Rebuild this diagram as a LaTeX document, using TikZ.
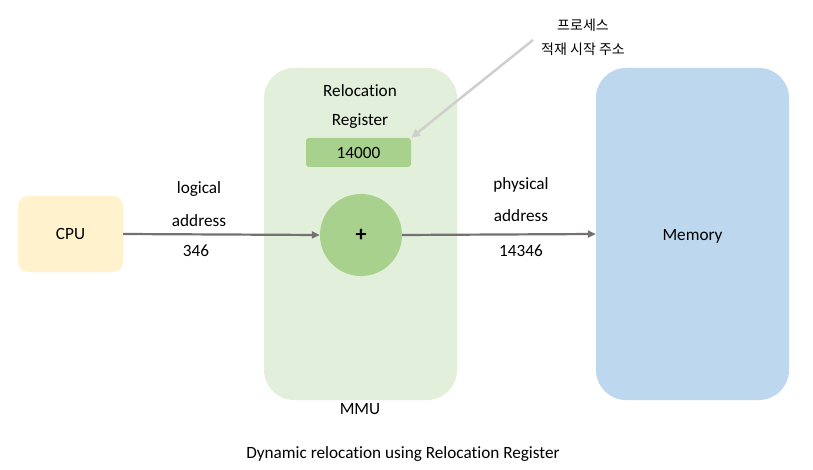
\documentclass[tikz,border=0pt]{standalone}
\usepackage{fontspec}
\setmainfont{Carlito}[Ligatures=NoCommon]
\newfontfamily\kor{Noto Sans CJK KR}
\usetikzlibrary{arrows.meta}
\definecolor{cpuY}{HTML}{FFF2CC}
\definecolor{mmuG}{HTML}{E2EFDA}
\definecolor{regG}{HTML}{A9D18E}
\definecolor{memB}{HTML}{BDD7EE}
\definecolor{arrG}{HTML}{767171}
\definecolor{noteG}{HTML}{D0CECE}
\begin{document}
\begin{tikzpicture}[x=1pt,y=-1pt,
  txt/.style={font=\fontsize{17.2}{20}\selectfont, inner sep=0pt},
  flow/.style={draw=arrG, line width=2.2pt, -{Triangle[length=8pt,width=7pt]}},
  note/.style={draw=noteG, line width=2.5pt, -{Triangle[length=9pt,width=8pt]}}]
\useasboundingbox (0,0) rectangle (813,470);
\fill[white] (0,0) rectangle (813,470);
\node[fill=mmuG, rounded corners=30pt, minimum width=193pt, minimum height=332pt, inner sep=0pt] (mmu) at (360.5,234) {};
\node[fill=memB, rounded corners=30pt, minimum width=193pt, minimum height=332pt, inner sep=0pt] (mem) at (692.5,234) {};
\node[txt] (memlab) at (692.5,236) {Memory};
\node[fill=cpuY, rounded corners=10pt, minimum width=105pt, minimum height=76pt, inner sep=0pt, txt] (cpu) at (70.5,234) {CPU};
\node[fill=regG, rounded corners=3pt, minimum width=105pt, minimum height=29pt, inner sep=0pt, txt] (reg) at (358.5,152.5) {14000};
\node[circle, fill=regG, minimum size=82pt, inner sep=0pt, font=\fontsize{22}{24}\selectfont\bfseries] (plus) at (361,235) {+};
\node[txt] (rel1) at (360,91) {Relocation};
\node[txt] (rel2) at (360,121) {Register};
\node[txt] (mmulab) at (360,409) {MMU};
\node[txt] (la1) at (199,189) {logical};
\node[txt] (la2) at (199,221) {address};
\node[txt] (la3) at (196,251) {346};
\node[txt] (pa1) at (521,185) {physical};
\node[txt] (pa2) at (521,216) {address};
\node[txt] (pa3) at (521,251) {14346};
\node[txt] (cap) at (403,454) {Dynamic relocation using Relocation Register};
\node[inner sep=0pt, font=\kor\fontsize{14}{16}\selectfont] (k1) at (583,25) {프로세스};
\node[inner sep=0pt, font=\kor\fontsize{14}{16}\selectfont] (k2) at (583,49) {적재 시작 주소};
\coordinate (ns) at (533,40);
\draw[flow] (cpu.east) -- (plus.west);
\draw[flow] (plus.east) -- (mem.west);
\draw[note] (ns) -- (reg.north east);
\end{tikzpicture}
\end{document}
